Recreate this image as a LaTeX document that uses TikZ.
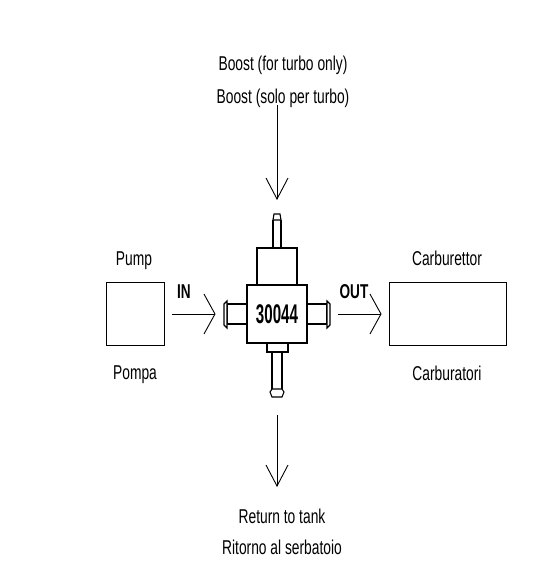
\documentclass[tikz,border=0pt]{standalone}
\usepackage{fontspec}
\setmainfont[FakeStretch=0.69]{Liberation Sans}
\newfontfamily\lblbold[FakeStretch=0.68]{Liberation Sans Bold}
\newfontfamily\numbold[FakeStretch=0.56]{Liberation Sans Bold}
\usetikzlibrary{arrows.meta}
\tikzset{
  x=1pt,y=-1pt,
  boxthin/.style={draw,line width=1pt,inner sep=0pt,outer sep=0pt,anchor=north west},
  boxbold/.style={draw,line width=1.6pt,inner sep=0pt,outer sep=0pt,anchor=north west},
  fit/.style={draw,line width=1.1pt,fill=white},
  lab/.style={font=\fontsize{20pt}{18pt}\selectfont,inner sep=0pt,align=center},
  labb/.style={font=\fontsize{20pt}{20pt}\lblbold,inner sep=0pt},
  flowv/.style={draw,line width=0.9pt,-{Straight Barb[length=21pt,width=22pt,line width=0.9pt]}},
  flowh/.style={draw,line width=0.9pt,-{Straight Barb[length=11pt,width=40pt,line width=0.9pt]}},
}
\begin{document}
\begin{tikzpicture}
\useasboundingbox (0,0) rectangle (537,573);
% boxes
\node[boxthin,minimum width=58pt,minimum height=63pt] (pump) at (106,282) {};
\node[boxthin,minimum width=117pt,minimum height=63pt] (carb) at (389,282) {};
% regulator fittings
\path[fit] (273,220) -- (273,248) (281,220) -- (281,248);
\path[fit] (273,220) -- (274,214) -- (280,214) -- (281,220) -- cycle;
\path[fit] (247,304) -- (227,304) -- (227,324) -- (247,324);
\path[fit] (227,301) -- (224,304) -- (224,325) -- (227,328) -- cycle;
\path[fit] (307,304) -- (327,304) -- (327,324) -- (307,324);
\path[fit] (327,301) -- (330,304) -- (330,325) -- (327,328) -- cycle;
\path[fit] (267,343) rectangle (288,352);
\path[fit] (272,352) -- (272,389) (282,352) -- (282,389);
\path[fit] (272,389) -- (282,389) -- (284,392) -- (282,397) -- (272,397) -- (270,392) -- cycle;
% regulator body
\node[boxbold,minimum width=40pt,minimum height=37pt] (head) at (257,248) {};
\node[boxbold,minimum width=60pt,minimum height=58pt,font=\fontsize{27pt}{27pt}\numbold] (body) at (247,285) {30044};
% labels
\node[lab] (boost) at (283,82) {Boost (for turbo only)\\[13pt]Boost (solo per turbo)};
\node[lab] (ret) at (282,532) {Return to tank\\[13pt]Ritorno al serbatoio};
\node[lab] (lpump) at (134,261) {Pump};
\node[lab] (lpompa) at (135,375) {Pompa};
\node[lab] (lcarb) at (447,258) {Carburettor};
\node[lab] (lcarbi) at (447,373) {Carburatori};
\node[labb] (lin) at (184,292) {IN};
\node[labb] (lout) at (354,292) {OUT};
% connector ends
\coordinate (a1) at (277,105);
\coordinate (a2) at (277,200);
\coordinate (b1) at (172,314);
\coordinate (b2) at (215.5,314);
\coordinate (c1) at (338,314);
\coordinate (c2) at (381.5,314);
\coordinate (d1) at (277,415);
\coordinate (d2) at (277,487);
\draw[flowv] (a1) -- (a2);
\draw[flowh] (b1) -- (b2);
\draw[flowh] (c1) -- (c2);
\draw[flowv] (d1) -- (d2);
\end{tikzpicture}
\end{document}
